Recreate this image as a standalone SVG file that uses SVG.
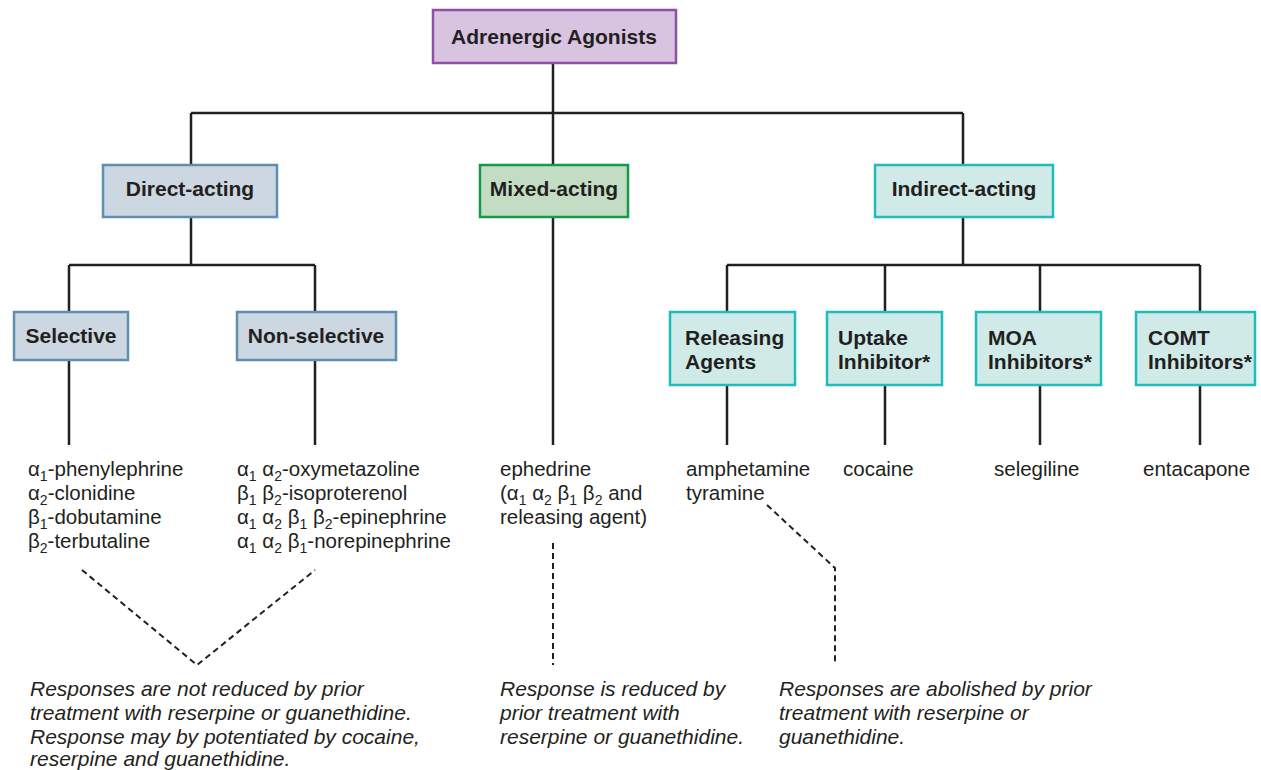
<svg xmlns="http://www.w3.org/2000/svg" width="1261" height="770" viewBox="0 0 1261 770">
<style>
.bx{stroke-width:2.5}
.purple{fill:#d8c4e0;stroke:#8e4fa6}
.blue{fill:#ccd7e1;stroke:#5d8fb1}
.green{fill:#c3ddc5;stroke:#17994a}
.teal{fill:#d0eae8;stroke:#1fbcbc}
.lbl{font-family:"Liberation Sans",Arial,sans-serif;font-weight:bold;font-size:21px;fill:#231f20}
.c{text-anchor:middle}
.t{font-family:"Liberation Sans",Arial,sans-serif;font-size:20.5px;fill:#231f20}
.it{font-family:"Liberation Sans",Arial,sans-serif;font-size:21px;font-style:italic;fill:#231f20}
.s{font-size:14px}
.ln{fill:none;stroke:#231f20;stroke-width:2.5}
.dash{fill:none;stroke:#231f20;stroke-width:2;stroke-dasharray:6 4}
</style>
<rect width="1261" height="770" fill="#ffffff"/>
<g id="connectors">
<path class="ln" d="M553 63V113M191 113H963M191 113V165M553 113V165M963 113V165"/>
<path class="ln" d="M191 217V265M69 265H315M69 265V312M315 265V312M69 360V445M315 360V445"/>
<path class="ln" d="M553 217V445"/>
<path class="ln" d="M963 217V265M727 265H1200M727 265V312M885 265V312M1040 265V312M1200 265V312M727 385V445M885 385V445M1040 385V445M1200 385V445"/>
<path class="dash" d="M82 570L197 665L315 570"/>
<path class="dash" d="M553 543V665"/>
<path class="dash" d="M767 505L835 568V665"/>
</g>
<g id="adrenergic-agonists">
<rect class="bx purple" x="433" y="10" width="243" height="53"/>
<text class="lbl c" x="554" y="44">Adrenergic Agonists</text>
</g>
<g id="direct-acting">
<rect class="bx blue" x="103" y="165" width="174" height="52"/>
<text class="lbl c" x="190" y="196">Direct-acting</text>
</g>
<g id="mixed-acting">
<rect class="bx green" x="480" y="165" width="148" height="52"/>
<text class="lbl c" x="554" y="196">Mixed-acting</text>
</g>
<g id="indirect-acting">
<rect class="bx teal" x="875" y="165" width="178" height="52"/>
<text class="lbl c" x="964" y="196">Indirect-acting</text>
</g>
<g id="selective">
<rect class="bx blue" x="14" y="312" width="114" height="48"/>
<text class="lbl c" x="71" y="343">Selective</text>
</g>
<g id="non-selective">
<rect class="bx blue" x="237" y="312" width="159" height="48"/>
<text class="lbl c" x="316" y="343">Non-selective</text>
</g>
<g id="releasing-agents">
<rect class="bx teal" x="670" y="312" width="125" height="73"/>
<text class="lbl" x="685" y="345">Releasing</text>
<text class="lbl" x="685" y="369">Agents</text>
</g>
<g id="uptake-inhibitor">
<rect class="bx teal" x="827" y="312" width="115" height="73"/>
<text class="lbl" x="838" y="345">Uptake</text>
<text class="lbl" x="838" y="369">Inhibitor*</text>
</g>
<g id="moa-inhibitors">
<rect class="bx teal" x="976" y="312" width="125" height="73"/>
<text class="lbl" x="988" y="345">MOA</text>
<text class="lbl" x="988" y="369">Inhibitors*</text>
</g>
<g id="comt-inhibitors">
<rect class="bx teal" x="1136" y="312" width="119" height="73"/>
<text class="lbl" x="1148" y="345">COMT</text>
<text class="lbl" x="1148" y="369">Inhibitors*</text>
</g>
<g id="selective-drugs">
<text class="t" x="28" y="476">α<tspan class="s" dy="5">1</tspan><tspan dy="-5">-phenylephrine</tspan></text>
<text class="t" x="28" y="500">α<tspan class="s" dy="5">2</tspan><tspan dy="-5">-clonidine</tspan></text>
<text class="t" x="28" y="524">β<tspan class="s" dy="5">1</tspan><tspan dy="-5">-dobutamine</tspan></text>
<text class="t" x="28" y="548">β<tspan class="s" dy="5">2</tspan><tspan dy="-5">-terbutaline</tspan></text>
</g>
<g id="non-selective-drugs">
<text class="t" x="237" y="476">α<tspan class="s" dy="5">1</tspan><tspan dy="-5"> α</tspan><tspan class="s" dy="5">2</tspan><tspan dy="-5">-oxymetazoline</tspan></text>
<text class="t" x="237" y="500">β<tspan class="s" dy="5">1</tspan><tspan dy="-5"> β</tspan><tspan class="s" dy="5">2</tspan><tspan dy="-5">-isoproterenol</tspan></text>
<text class="t" x="237" y="524">α<tspan class="s" dy="5">1</tspan><tspan dy="-5"> α</tspan><tspan class="s" dy="5">2</tspan><tspan dy="-5"> β</tspan><tspan class="s" dy="5">1</tspan><tspan dy="-5"> β</tspan><tspan class="s" dy="5">2</tspan><tspan dy="-5">-epinephrine</tspan></text>
<text class="t" x="237" y="548">α<tspan class="s" dy="5">1</tspan><tspan dy="-5"> α</tspan><tspan class="s" dy="5">2</tspan><tspan dy="-5"> β</tspan><tspan class="s" dy="5">1</tspan><tspan dy="-5">-norepinephrine</tspan></text>
</g>
<g id="mixed-drugs">
<text class="t" x="500" y="476">ephedrine</text>
<text class="t" x="500" y="500">(α<tspan class="s" dy="5">1</tspan><tspan dy="-5"> α</tspan><tspan class="s" dy="5">2</tspan><tspan dy="-5"> β</tspan><tspan class="s" dy="5">1</tspan><tspan dy="-5"> β</tspan><tspan class="s" dy="5">2</tspan><tspan dy="-5"> and</tspan></text>
<text class="t" x="500" y="524">releasing agent)</text>
</g>
<g id="indirect-drugs">
<text class="t" x="686" y="476">amphetamine</text>
<text class="t" x="686" y="500">tyramine</text>
<text class="t" x="843" y="476">cocaine</text>
<text class="t" x="994" y="476">selegiline</text>
<text class="t" x="1143" y="476">entacapone</text>
</g>
<g id="notes">
<text class="it" x="30" y="696">Responses are not reduced by prior</text>
<text class="it" x="30" y="720">treatment with reserpine or guanethidine.</text>
<text class="it" x="30" y="744">Response may by potentiated by cocaine,</text>
<text class="it" x="30" y="766">reserpine and guanethidine.</text>
<text class="it" x="500" y="696">Response is reduced by</text>
<text class="it" x="500" y="720">prior treatment with</text>
<text class="it" x="500" y="744">reserpine or guanethidine.</text>
<text class="it" x="779" y="696">Responses are abolished by prior</text>
<text class="it" x="779" y="720">treatment with reserpine or</text>
<text class="it" x="779" y="744">guanethidine.</text>
</g>
</svg>
